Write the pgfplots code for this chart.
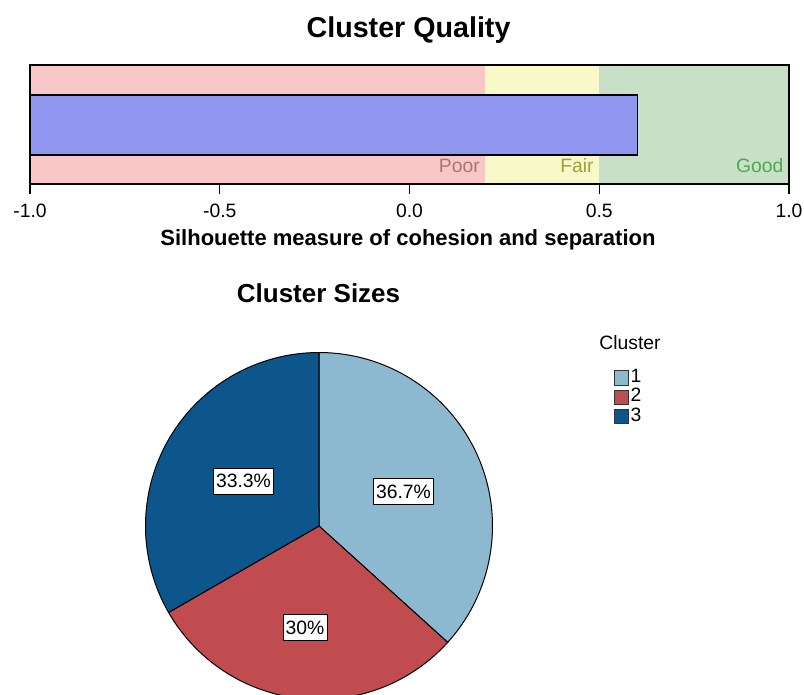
\documentclass[border=0pt]{standalone}
\usepackage{pgfplots}
\pgfplotsset{compat=1.18}
\usepackage{fontspec}
\setmainfont{Liberation Sans}
\definecolor{poorbg}{RGB}{248,200,200}
\definecolor{fairbg}{RGB}{248,248,200}
\definecolor{goodbg}{RGB}{200,224,200}
\definecolor{barblue}{RGB}{143,151,240}
\definecolor{poortx}{RGB}{180,112,112}
\definecolor{fairtx}{RGB}{160,160,60}
\definecolor{goodtx}{RGB}{76,170,76}
\definecolor{cA}{RGB}{140,184,208}
\definecolor{cB}{RGB}{192,76,80}
\definecolor{cC}{RGB}{12,86,140}
\begin{document}
\begin{tikzpicture}
\path[use as bounding box] (0,0) rectangle (603pt,520.5pt);
\clip (0,0) rectangle (603pt,520.5pt);
\node[font=\fontsize{21.5}{24}\selectfont\bfseries] at (306.4pt,498pt) {Cluster Quality};
\begin{axis}[at={(22.5pt,382.5pt)}, anchor=south west, scale only axis,
  width=569.25pt, height=89.25pt, xmin=-1, xmax=1, ymin=0, ymax=1,
  ytick=\empty, xtick={-1,-0.5,0,0.5,1}, xticklabels={-1.0,-0.5,0.0,0.5,1.0},
  tick align=outside, major tick length=7.5pt, xtick pos=lower,
  axis line style={line width=1pt}, tick style={black, line width=1pt},
  xticklabel style={font=\fontsize{14.5}{16}\selectfont, yshift=-4pt},
  axis on top, clip=false]
\addplot[fill=poorbg, draw=none] coordinates {(-1,0) (0.2,0) (0.2,1) (-1,1)} -- cycle;
\addplot[fill=fairbg, draw=none] coordinates {(0.2,0) (0.5,0) (0.5,1) (0.2,1)} -- cycle;
\addplot[fill=goodbg, draw=none] coordinates {(0.5,0) (1,0) (1,1) (0.5,1)} -- cycle;
\addplot[fill=barblue, draw=black, line width=1pt] coordinates {(-1,0.244) (0.6,0.244) (0.6,0.748) (-1,0.748)} -- cycle;
\node[anchor=east, text=poortx, font=\fontsize{14.5}{16}\selectfont, inner sep=0pt] at (axis cs:0.2,0.151) [xshift=-4pt] {Poor};
\node[anchor=east, text=fairtx, font=\fontsize{14.5}{16}\selectfont, inner sep=0pt] at (axis cs:0.5,0.151) [xshift=-4pt] {Fair};
\node[anchor=east, text=goodtx, font=\fontsize{14.5}{16}\selectfont, inner sep=0pt] at (axis cs:1,0.151) [xshift=-4pt] {Good};
\end{axis}
\node[font=\fontsize{16.5}{18}\selectfont\bfseries] at (306pt,340.5pt) {Silhouette measure of cohesion and separation};
\node[font=\fontsize{19.5}{22}\selectfont\bfseries] at (238.9pt,300.75pt) {Cluster Sizes};
\node[font=\fontsize{14.5}{16}\selectfont] at (472.5pt,263.25pt) {Cluster};
\pgfmathsetmacro{\aA}{90-3.6*36.7}
\pgfmathsetmacro{\aB}{\aA-3.6*30}
\pgfmathsetmacro{\aC}{\aB-3.6*33.3}
\begin{axis}[at={(109.125pt,-4.125pt)}, anchor=south west, scale only axis,
  width=260.25pt, height=260.25pt, xmin=-1, xmax=1, ymin=-1, ymax=1,
  hide axis, clip=false,
  legend image code/.code={\draw[#1, draw=black!80, line width=0.75pt] (0pt,-5.3pt) rectangle (10.5pt,5.3pt);},
  legend style={at={(1.35,0.955)}, anchor=north west, draw=none, fill=none,
    inner sep=0pt, row sep=0pt, font=\fontsize{14.5}{14.5}\selectfont,
    nodes={inner sep=1pt, text height=9.8pt, text depth=2.6pt}},
  legend cell align=left]
\addplot[fill=cA, draw=black, line width=0.75pt, domain=90:\aA, samples=90, variable=\t] ({cos(\t)},{sin(\t)}) -- (axis cs:0,0) -- cycle;
\addlegendentry{1}
\addplot[fill=cB, draw=black, line width=0.75pt, domain=\aA:\aB, samples=90, variable=\t] ({cos(\t)},{sin(\t)}) -- (axis cs:0,0) -- cycle;
\addlegendentry{2}
\addplot[fill=cC, draw=black, line width=0.75pt, domain=\aB:\aC, samples=90, variable=\t] ({cos(\t)},{sin(\t)}) -- (axis cs:0,0) -- cycle;
\addlegendentry{3}
\node[draw=black, fill=white, inner xsep=2pt, inner ysep=4.5pt, font=\fontsize{14.5}{16}\selectfont] at (axis cs:0.487,0.199) {36.7\%};
\node[draw=black, fill=white, inner xsep=2pt, inner ysep=4.5pt, font=\fontsize{14.5}{16}\selectfont] at (axis cs:-0.435,0.259) {33.3\%};
\node[draw=black, fill=white, inner xsep=2pt, inner ysep=4.5pt, font=\fontsize{14.5}{16}\selectfont] at (axis cs:-0.081,-0.585) {30\%};
\end{axis}
\end{tikzpicture}
\end{document}
